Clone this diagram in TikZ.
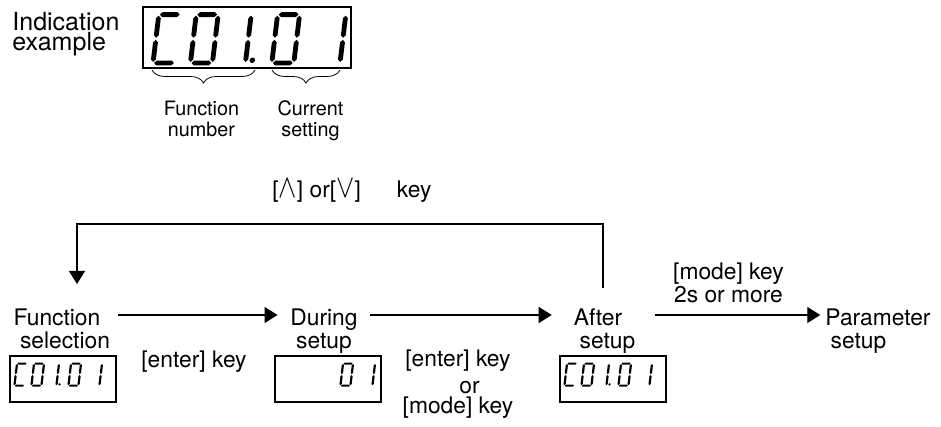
\documentclass[tikz,border=0pt]{standalone}
\usepackage{fontspec}
\setmainfont{TeX Gyre Heros}
\usetikzlibrary{arrows.meta, positioning, decorations.pathreplacing}
\tikzset{
x=0.5pt, y=-0.5pt, % one unit is one pixel of the sketch, y runs downwards
>={Triangle[length=6.5pt, width=8pt]}, % filled arrow heads
stage/.style={align=center, inner sep=0pt, font=\fontsize{11.4}{11.5}\selectfont}, % state and key texts
small/.style={align=center, inner sep=0pt, font=\fontsize{9.9}{10.8}\selectfont}, % texts under the braces
lcd/.style={draw, line width=0.6pt, minimum width=53pt, minimum height=23pt, inner sep=0pt}, % small readouts
flow/.style={->, line width=0.6pt}, % the transitions
}
% seven segment digits, local y upwards
\newcommand\hseg[3]{\fill (#1,#3) -- ++(2.2,2.2) -- (#2-2.2,#3+2.2) -- (#2,#3) -- (#2-2.2,#3-2.2) -- (#1+2.2,#3-2.2) -- cycle;}
\newcommand\vseg[3]{\fill (#1,#2) -- ++(2.2,2.2) -- (#1+2.2,#3-2.2) -- (#1,#3) -- (#1-2.2,#3-2.2) -- (#1-2.2,#2+2.2) -- cycle;}
\newcommand\segA{\hseg{1}{19}{44}}
\newcommand\segB{\vseg{20}{23}{43}}
\newcommand\segC{\vseg{20}{1}{21}}
\newcommand\segD{\hseg{1}{19}{0}}
\newcommand\segE{\vseg{0}{1}{21}}
\newcommand\segF{\vseg{0}{23}{43}}
\newcommand\segG{\hseg{1}{19}{22}}
\newcommand\segP{\fill (26,2.5) circle (2.5);}
\newcommand\sevenseg[3]{\begin{scope}[shift={(#1,#2)}, xslant=0.12, yscale=-1]
  \foreach \s in {#3}{\csname seg\s\endcsname}
\end{scope}}
\newcommand\readout[2]{\begin{scope}[shift={#1}, scale=#2]
  \sevenseg{0}{0}{A,D,E,F}
  \sevenseg{34}{0}{A,B,C,D,E,F}
  \sevenseg{64}{0}{B,C,P}
  \sevenseg{108}{0}{A,B,C,D,E,F}
  \sevenseg{150}{0}{B,C}
\end{scope}}
\newcommand\tallsym[1]{\scalebox{1.25}[1.5]{$#1$}}
\begin{document}
\begin{tikzpicture}
    \useasboundingbox (0,0) rectangle (941,427);

    \node[align=left, inner sep=0pt, anchor=base west, font=\fontsize{12.5}{9}\selectfont] (indic) at (12,51) {Indication\\example};
    \node[draw, line width=1pt, minimum width=104pt, minimum height=30.5pt, inner sep=0pt] (bigdisp) at (247,37.5) {};
    \readout{(153,63)}{1.1}
    \draw[decorate, decoration={brace, mirror, amplitude=6.5pt}] (152,70) -- (255,70);
    \draw[decorate, decoration={brace, mirror, amplitude=6.5pt}] (272,70) -- (340,70);
    \node[small, anchor=base] (fnum) at (201.5,137) {Function\\number};
    \node[small, anchor=base] (cur) at (310.5,137) {Current\\setting};

    \node[stage, anchor=base] (fsel) at (57,348) {Function\\\hspace*{8pt}selection};
    \node[stage, anchor=base] (dur) at (324,348) {During\\setup};
    \node[stage, anchor=base] (aft) at (598,348) {After\\\hspace*{9.5pt}setup};
    \node[stage, anchor=base] (par) at (878,348) {Parameter\\setup\hspace*{19.5pt}};

    \node[lcd] (fdisp) at (63,379) {};
    \node[lcd] (ddisp) at (328,379) {};
    \node[lcd] (adisp) at (613,379) {};
    \begin{scope}[shift={(fdisp.south west)}]
        \readout{(5,-17)}{0.5}
    \end{scope}
    \begin{scope}[shift={(adisp.south west)}]
        \readout{(5,-17)}{0.5}
    \end{scope}
    \begin{scope}[shift={(ddisp.south west)}, scale=0.5]
        \sevenseg{132}{-34}{A,B,C,D,E,F}
        \sevenseg{176}{-34}{B,C}
    \end{scope}

    \node[stage, anchor=base] (enter) at (194,367) {[enter] key};
    \node[stage, anchor=base] (confirm) at (458,413) {[enter] key\\[1.8pt]\hspace*{11.5pt}or\\[-1.5pt]{}[mode] key};
    \node[stage, anchor=base] (hold) at (728.5,302) {[mode] key\\2s or more};
    \node[stage, anchor=base west] (updown) at (272,198) {[\tallsym\wedge] or[\tallsym\vee]\hspace{18pt}key};

    \draw[flow] ([xshift=4pt, yshift=16.5pt]fsel.base east) -- ([xshift=-6.25pt, yshift=16.5pt]dur.base west);
    \draw[flow] ([xshift=6.25pt, yshift=16.5pt]dur.base east) -- ([xshift=-4.3pt, yshift=16.5pt]aft.base west);
    \draw[flow] ([xshift=9.8pt, yshift=16.5pt]aft.base east) -- ([xshift=-2.4pt, yshift=16.5pt]par.base west);
    \draw[flow] ([xshift=2.5pt, yshift=10pt]aft.north) -- ++(0,-64) -| ([xshift=10pt, yshift=12pt]fsel.north);
\end{tikzpicture}
\end{document}
